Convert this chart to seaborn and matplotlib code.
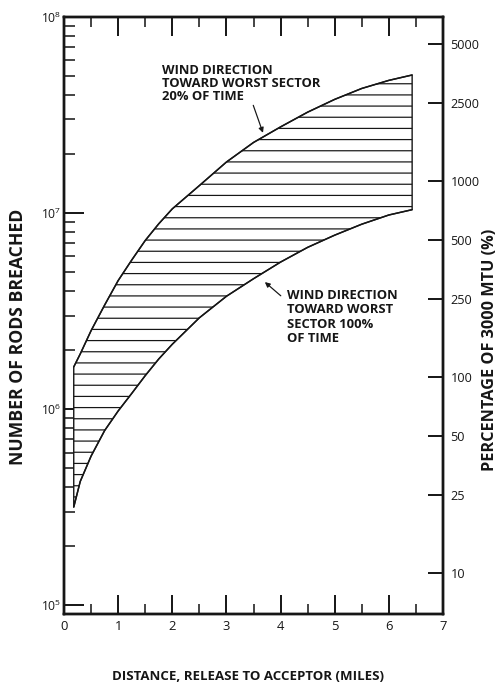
import matplotlib
matplotlib.use("Agg")
import matplotlib.pyplot as plt
from matplotlib.ticker import FixedLocator, NullLocator, NullFormatter, LogLocator
import numpy as np
import pandas as pd
import seaborn as sns

# ---------------- data ----------------
distance_mi = [0.18, 0.30, 0.50, 0.75, 1.00, 1.25, 1.50, 1.75, 2.00, 2.50,
               3.00, 3.50, 4.00, 4.50, 5.00, 5.50, 6.00, 6.43]
rods_20pct_time = [1.64e6, 1.91e6, 2.51e6, 3.39e6, 4.52e6, 5.75e6, 7.24e6, 8.81e6,
                   1.05e7, 1.38e7, 1.82e7, 2.29e7, 2.75e7, 3.27e7, 3.80e7, 4.32e7,
                   4.75e7, 5.06e7]
rods_100pct_time = [3.16e5, 4.27e5, 5.75e5, 7.76e5, 9.77e5, 1.20e6, 1.48e6, 1.80e6,
                    2.14e6, 2.92e6, 3.76e6, 4.62e6, 5.62e6, 6.68e6, 7.71e6, 8.77e6,
                    9.77e6, 1.04e7]
x_ticks = [0, 1, 2, 3, 4, 5, 6, 7]
pct_ticks = [10, 25, 50, 100, 250, 500, 1000, 2500, 5000]
RODS_PER_PCT = 1.45e4   # rods breached per 1 % of 3000 MTU (right-axis conversion)

df = pd.DataFrame({"distance": distance_mi,
                   "upper": rods_20pct_time,
                   "lower": rods_100pct_time})

# ---------------- style ----------------
sns.set_style("ticks")
plt.rcParams["font.family"] = ["Open Sans", "DejaVu Sans"]
plt.rcParams["hatch.linewidth"] = 1.3
plt.rcParams["mathtext.fontset"] = "custom"
plt.rcParams["mathtext.rm"] = "Open Sans"
INK = "#161616"

DPI = 67
W, H = 499, 684
fig = plt.figure(figsize=(W / DPI, H / DPI), dpi=DPI)
L, R, T, B = 64, 443, 17, 614
ax = fig.add_axes([L / W, 1 - B / H, (R - L) / W, (B - T) / H])

# hatched band between the two curves
ax.fill_between(df["distance"], df["lower"], df["upper"], facecolor="white",
                edgecolor=INK, hatch="-", linewidth=1.5, zorder=2)
sns.lineplot(data=df, x="distance", y="upper", ax=ax, color=INK, linewidth=1.6,
             zorder=3, legend=False)
sns.lineplot(data=df, x="distance", y="lower", ax=ax, color=INK, linewidth=1.6,
             zorder=3, legend=False)

ax.set_yscale("log")
ax.set_xlim(0, 7)
ax.set_ylim(9e4, 1e8)
ax.set_xlabel("")
ax.set_ylabel("")

ax.xaxis.set_major_locator(FixedLocator(x_ticks))
ax.xaxis.set_minor_locator(FixedLocator([t + 0.5 for t in x_ticks[:-1]]))
ax.yaxis.set_major_locator(LogLocator(base=10, numticks=10))
ax.yaxis.set_minor_locator(LogLocator(base=10, subs=np.arange(2, 10), numticks=20))
ax.yaxis.set_minor_formatter(NullFormatter())

for s in ax.spines.values():
    s.set_linewidth(2.6)
    s.set_color(INK)

ax.tick_params(axis="x", which="major", direction="in", length=20, width=2.1,
               top=True, bottom=True, labelsize=14, pad=6, colors=INK)
ax.tick_params(axis="x", which="minor", direction="in", length=11, width=1.8,
               top=True, bottom=True)
ax.tick_params(axis="y", which="major", direction="in", length=21, width=2.1,
               right=False, labelsize=13, pad=3, colors=INK)
ax.tick_params(axis="y", which="minor", direction="in", length=12, width=1.8,
               right=False)

# right axis: percentage of 3000 MTU
ax2 = ax.twinx()
ax2.set_yscale("log")
ax2.set_ylim(ax.get_ylim())
ax2.yaxis.set_major_locator(FixedLocator([p * RODS_PER_PCT for p in pct_ticks]))
ax2.set_yticklabels([str(p) for p in pct_ticks])
ax2.yaxis.set_minor_locator(NullLocator())
ax2.tick_params(axis="y", which="major", direction="in", length=16, width=2.1,
                labelsize=13.5, pad=8, colors=INK)
for s in ax2.spines.values():
    s.set_linewidth(2.6)
    s.set_color(INK)

# annotations
ax.annotate("WIND DIRECTION\nTOWARD WORST SECTOR\n20% OF TIME",
            xy=(0.525, 0.806), xycoords="axes fraction",
            xytext=(0.259, 0.922), textcoords="axes fraction",
            ha="left", va="top", fontsize=14, fontweight="bold", color=INK,
            linespacing=1.02, zorder=5,
            arrowprops=dict(arrowstyle="-|>", color=INK, lw=1.3,
                            mutation_scale=11, shrinkA=0, shrinkB=0,
                            relpos=(0.57, 0.0)))
ax.annotate("", xy=(0.530, 0.556), xycoords="axes fraction",
            xytext=(0.572, 0.533), textcoords="axes fraction",
            arrowprops=dict(arrowstyle="-|>", color=INK, lw=1.3,
                            mutation_scale=11, shrinkA=0, shrinkB=0))
ax.text(0.588, 0.544, "WIND DIRECTION\nTOWARD WORST\nSECTOR 100%\nOF TIME",
        transform=ax.transAxes, ha="left", va="top", fontsize=14,
        fontweight="bold", color=INK, linespacing=1.12, zorder=5)

# axis titles
fig.text(18 / W, 1 - 337 / H, "NUMBER OF RODS BREACHED", rotation=90,
         ha="center", va="center", fontsize=19, fontweight="bold", color=INK)
fig.text(490 / W, 1 - 350 / H, "PERCENTAGE OF 3000 MTU (%)", rotation=90,
         ha="center", va="center", fontsize=17.5, fontweight="bold", color=INK)
fig.text(248 / W, 1 - 677 / H, "DISTANCE, RELEASE TO ACCEPTOR (MILES)",
         ha="center", va="center", fontsize=14.2, fontweight="bold", color=INK)

fig.savefig("out.png", dpi=DPI, facecolor="white")
